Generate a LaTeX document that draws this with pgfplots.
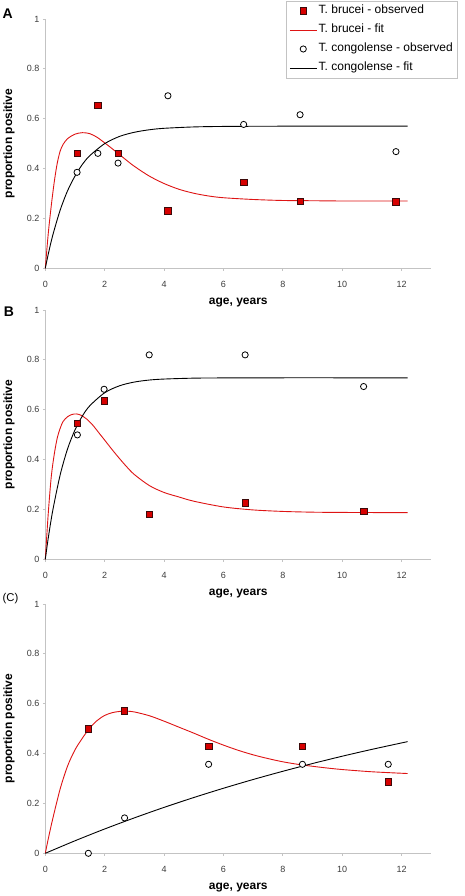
\documentclass[border=0pt]{standalone}
\usepackage{fontspec}
\setmainfont{Liberation Sans}
\usepackage{pgfplots}
\pgfplotsset{compat=1.18}
\definecolor{myred}{RGB}{222,20,20}
\definecolor{sqfill}{RGB}{215,0,0}
\definecolor{sqdraw}{RGB}{60,10,10}
\definecolor{axgray}{RGB}{195,195,195}
\definecolor{ticktext}{RGB}{60,60,60}
\pgfplotsset{
 panel/.style={
  scale only axis, width=386pt, height=249.3pt,
  xmin=0, xmax=13, ymin=0, ymax=1,
  axis lines*=left,
  axis line style={axgray, line width=0.8pt},
  tick style={axgray, line width=0.8pt},
  tick align=outside, major tick length=2.5pt,
  xtick={0,2,4,6,8,10,12}, ytick={0,0.2,0.4,0.6,0.8,1},
  ticklabel style={font=\fontsize{9}{10}\selectfont, text=ticktext},
  xticklabel style={yshift=-6.5pt},
  /pgf/number format/assume math mode=true,
  clip=false,
  xlabel={age, years}, ylabel={proportion positive},
  label style={font=\bfseries\fontsize{12}{14}\selectfont},
  xlabel style={at={(axis description cs:0.5,-0.1384)}, anchor=center},
  ylabel style={at={(axis description cs:-0.094,0.5)}, anchor=center},
 },
 obsb/.style={only marks, mark=square*, mark size=3.2pt,
   mark options={fill=sqfill, draw=sqdraw, line width=0.6pt},
   legend image code/.code={\draw[mark repeat=2,mark phase=2,##1] plot coordinates {(0pt,0pt)(13.5pt,0pt)(27pt,0pt)};}},
 obsc/.style={only marks, mark=*, mark size=3.1pt,
   mark options={fill=white, draw=black, line width=0.8pt},
   legend image code/.code={\draw[mark repeat=2,mark phase=2,##1] plot coordinates {(0pt,0pt)(13.5pt,0pt)(27pt,0pt)};}},
 fitb/.style={no marks, smooth, myred, line width=0.9pt,
   legend image code/.code={\draw[##1] (0pt,0pt) -- (27pt,0pt);}},
 fitc/.style={no marks, smooth, black, line width=0.9pt,
   legend image code/.code={\draw[##1] (0pt,0pt) -- (27pt,0pt);}},
}
\begin{document}
\begin{tikzpicture}[x=1pt,y=1pt]
\useasboundingbox (0,0) rectangle (464,896);

% ---------------- Panel A ----------------
\begin{axis}[panel, at={(45.3pt,627.7pt)}, anchor=south west,
  legend cell align=left,
  legend style={at={(axis description cs:0.6236,1.0734)}, anchor=north west,
    draw=axgray, line width=0.6pt, font=\fontsize{12}{14}\selectfont,
    inner xsep=3pt, inner ysep=3pt, row sep=5pt,
    nodes={inner sep=1.5pt, text height=8.5pt, text depth=2.5pt}}]
\addlegendimage{obsb}\addlegendentry{T. brucei - observed}
\addlegendimage{fitb}\addlegendentry{T. brucei - fit}
\addlegendimage{obsc}\addlegendentry{T. congolense - observed}
\addlegendimage{fitc}\addlegendentry{T. congolense - fit}
\addplot[fitb, forget plot] coordinates {
(0,0) (0.1,0.14) (0.2,0.25) (0.3,0.345) (0.4,0.42) (0.5,0.47) (0.6,0.497)
(0.75,0.52) (1.0,0.538) (1.25,0.544) (1.5,0.54) (1.75,0.525) (2.0,0.503)
(2.25,0.48) (2.5,0.456) (2.75,0.432) (3.0,0.409) (3.5,0.37) (4.0,0.34)
(4.5,0.317) (5.0,0.301) (5.5,0.29) (6.0,0.283) (7.0,0.276) (8.0,0.272)
(9.0,0.271) (10,0.27) (12.2,0.27)};
\addplot[fitc, forget plot] coordinates {
(0,0) (0.1,0.057) (0.25,0.132) (0.5,0.233) (0.75,0.311) (1,0.370)
(1.25,0.417) (1.5,0.452) (2,0.500) (2.5,0.529) (3,0.5456) (3.5,0.5556)
(4,0.5615) (5,0.567) (6,0.569) (8,0.570) (10,0.570) (12.2,0.570)};
\addplot[obsb, forget plot] coordinates {
(1.07,0.461) (1.77,0.654) (2.45,0.461) (4.13,0.230) (6.68,0.346) (8.58,0.269) (11.81,0.266)};
\addplot[obsc, forget plot] coordinates {
(1.07,0.385) (1.77,0.461) (2.45,0.422) (4.13,0.692) (6.68,0.577) (8.58,0.616) (11.81,0.468)};
\end{axis}

% ---------------- Panel B ----------------
\begin{axis}[panel, at={(45.3pt,336.7pt)}, anchor=south west]
\addplot[fitb] coordinates {
(0,0) (0.1,0.185) (0.2,0.33) (0.3,0.42) (0.4,0.485) (0.5,0.525) (0.6,0.553)
(0.75,0.572) (0.9,0.581) (1.05,0.583) (1.2,0.578) (1.4,0.562) (1.6,0.538)
(1.8,0.508) (2.0,0.478) (2.25,0.44) (2.5,0.404) (2.75,0.37) (3.0,0.34)
(3.5,0.296) (4.0,0.268) (4.5,0.25) (5.0,0.233) (6.0,0.21) (7.0,0.198)
(8.0,0.192) (9.0,0.189) (10,0.188) (12.2,0.187)};
\addplot[fitc] coordinates {
(0,0) (0.1,0.0855) (0.25,0.195) (0.5,0.338) (0.75,0.443) (1,0.519)
(1.25,0.575) (1.5,0.616) (2,0.668) (2.5,0.696) (3,0.711) (3.5,0.719)
(4,0.723) (5,0.7266) (6,0.7275) (8,0.728) (10,0.728) (12.2,0.728)};
\addplot[obsb] coordinates {
(1.08,0.545) (1.98,0.636) (3.50,0.181) (6.73,0.227) (10.72,0.192)};
\addplot[obsc] coordinates {
(1.08,0.499) (1.98,0.682) (3.50,0.820) (6.73,0.820) (10.72,0.693)};
\end{axis}

% ---------------- Panel C ----------------
\begin{axis}[panel, at={(45.3pt,42.7pt)}, anchor=south west]
\addplot[fitb] coordinates {
(0,0) (0.1,0.058) (0.25,0.138) (0.5,0.258) (0.75,0.35) (1.0,0.415)
(1.25,0.462) (1.5,0.503) (1.75,0.533) (2.0,0.553) (2.25,0.564) (2.5,0.569)
(2.75,0.570) (3.0,0.567) (3.5,0.552) (4.0,0.530) (4.5,0.506) (5.0,0.482)
(5.5,0.457) (6.0,0.434) (6.5,0.413) (7.0,0.395) (7.5,0.380) (8.0,0.367)
(8.5,0.357) (9.0,0.349) (9.5,0.342) (10.0,0.336) (11.0,0.327) (12.2,0.320)};
\addplot[fitc] coordinates {
(0,0) (1,0.0502) (2,0.0976) (3,0.1421) (4,0.1842) (5,0.2237) (6,0.2609)
(7,0.2960) (8,0.3290) (9,0.3601) (10,0.3894) (11,0.4169) (12.2,0.4479)};
\addplot[obsb] coordinates {
(1.45,0.499) (2.67,0.572) (5.50,0.430) (8.66,0.430) (11.55,0.286)};
\addplot[obsc] coordinates {
(1.45,0.0) (2.67,0.142) (5.50,0.357) (8.66,0.357) (11.55,0.357)};
\end{axis}

\node[font=\bfseries\fontsize{14}{16}\selectfont, anchor=center] at (7.7,882.7) {A};
\node[font=\bfseries\fontsize{14}{16}\selectfont, anchor=center] at (9,584.3) {B};
\node[font=\fontsize{11.3}{13}\selectfont, anchor=center] at (10.5,297.5) {(C)};
\end{tikzpicture}
\end{document}
